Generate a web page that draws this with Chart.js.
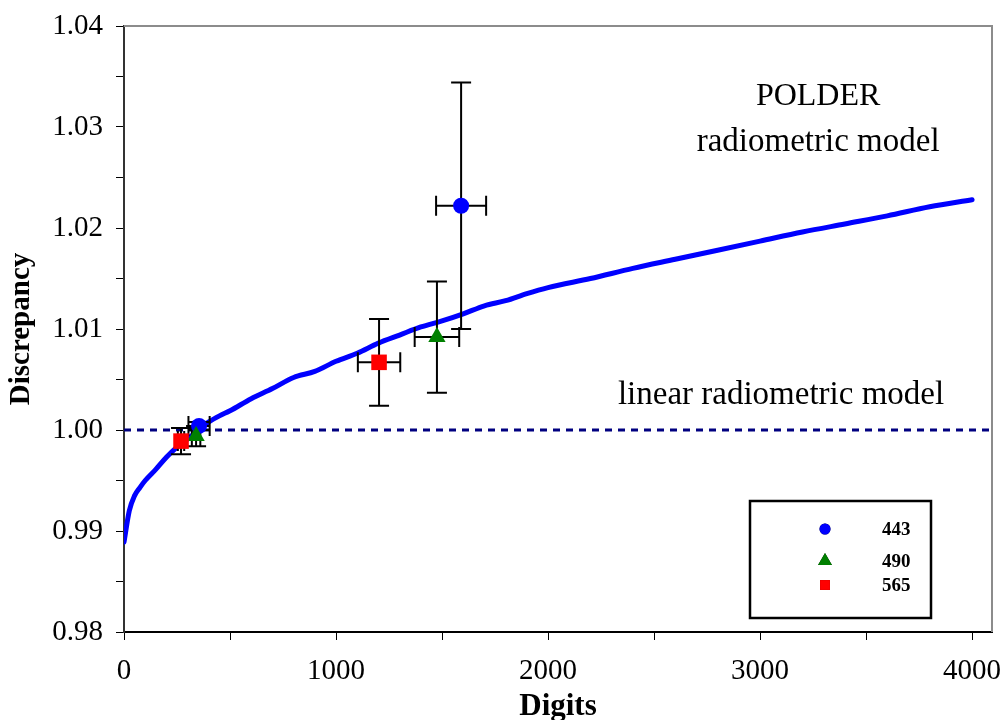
<!DOCTYPE html>
<html lang="en">
<head>
    <meta charset="UTF-8">
    <title>POLDER discrepancy</title>
    <script src="https://cdn.jsdelivr.net/npm/chart.js"></script>
    <style>
        body {
            margin: 0;
            background-color: #ffffff;
        }
        #wrap {
            width: 1004px;
            height: 720px;
        }
    </style>
</head>
<body>
    <div id="wrap"><canvas id="discChart" width="1004" height="720"></canvas></div>
    <script>
        // model curve (digits vs discrepancy)
        const curveX = [0, 25, 50, 75, 100, 150, 200, 250, 300, 350, 400, 450, 500, 600, 700, 800, 900,
            1000, 1100, 1200, 1300, 1400, 1500, 1600, 1700, 1800, 1900, 2000, 2200, 2400, 2600, 2800,
            3000, 3200, 3400, 3600, 3800, 4000];
        const curveY = [0.9889, 0.9920, 0.9935, 0.9943, 0.9950, 0.9961, 0.9973, 0.9983, 0.9991, 1.0000,
            1.0008, 1.0014, 1.0019, 1.0031, 1.0041, 1.0052, 1.0058, 1.0068, 1.0076, 1.0086, 1.0094,
            1.0102, 1.0108, 1.0115, 1.0123, 1.0128, 1.0135, 1.0141, 1.0150, 1.0160, 1.0169, 1.0178,
            1.0187, 1.0196, 1.0204, 1.0212, 1.0221, 1.0228];

        // measurements per band
        const x443 = [354, 1590];
        const y443 = [1.0004, 1.0222];
        const xErr443 = [50, 118];
        const yErr443 = [0.0004, 0.0122];

        const x490 = [340, 1476];
        const y490 = [0.9994, 1.0092];
        const xErr490 = [20, 105];
        const yErr490 = [0.0010, 0.0055];

        const x565 = [269, 1203];
        const y565 = [0.9989, 1.0067];
        const xErr565 = [15, 100];
        const yErr565 = [0.0013, 0.0043];

        const linearX = [0, 4094];
        const linearY = [1.0, 1.0];

        const xTickValues = [0, 500, 1000, 1500, 2000, 2500, 3000, 3500, 4000];
        const xTicksLabelled = [0, 1000, 2000, 3000, 4000];
        const yTicksLabelled = [0.98, 0.99, 1.00, 1.01, 1.02, 1.03, 1.04];

        const serif = '"Liberation Serif", "Times New Roman", serif';

        function pts(xs, ys) {
            return xs.map((x, i) => ({ x: x, y: ys[i] }));
        }

        const bands = [
            { label: '443', xs: x443, ys: y443, xe: xErr443, ye: yErr443, color: '#0000ff', style: 'circle', radius: 8, legendRadius: 5.5 },
            { label: '490', xs: x490, ys: y490, xe: xErr490, ye: yErr490, color: '#008000', style: 'triangle', radius: 10, legendRadius: 8 },
            { label: '565', xs: x565, ys: y565, xe: xErr565, ye: yErr565, color: '#ff0000', style: 'rect', radius: 11, legendRadius: 7 }
        ];

        // error bars go right after the curve, under the markers
        const errorBars = {
            id: 'errorBars',
            afterDatasetDraw(chart, args) {
                if (args.index !== 1) return;
                const ctx = chart.ctx;
                const xs = chart.scales.x, ys = chart.scales.y;
                const cap = 10;
                ctx.save();
                ctx.strokeStyle = '#000';
                ctx.lineWidth = 2;
                bands.forEach(b => {
                    b.xs.forEach((x, i) => {
                        const px = xs.getPixelForValue(x);
                        const py = ys.getPixelForValue(b.ys[i]);
                        const x0 = xs.getPixelForValue(x - b.xe[i]);
                        const x1 = xs.getPixelForValue(x + b.xe[i]);
                        const y0 = ys.getPixelForValue(b.ys[i] + b.ye[i]);
                        const y1 = ys.getPixelForValue(b.ys[i] - b.ye[i]);
                        ctx.beginPath();
                        ctx.moveTo(x0, py); ctx.lineTo(x1, py);
                        ctx.moveTo(x0, py - cap); ctx.lineTo(x0, py + cap);
                        ctx.moveTo(x1, py - cap); ctx.lineTo(x1, py + cap);
                        ctx.moveTo(px, y0); ctx.lineTo(px, y1);
                        ctx.moveTo(px - cap, y0); ctx.lineTo(px + cap, y0);
                        ctx.moveTo(px - cap, y1); ctx.lineTo(px + cap, y1);
                        ctx.stroke();
                    });
                });
                ctx.restore();
            }
        };

        // gray top/right frame, annotations and boxed legend
        const decorations = {
            id: 'decorations',
            beforeDatasetsDraw(chart) {
                const { ctx, chartArea } = chart;
                ctx.save();
                ctx.strokeStyle = '#8c8c8c';
                ctx.lineWidth = 2;
                ctx.beginPath();
                ctx.moveTo(chartArea.left, chartArea.top);
                ctx.lineTo(chartArea.right, chartArea.top);
                ctx.lineTo(chartArea.right, chartArea.bottom);
                ctx.stroke();
                ctx.restore();
            },
            afterDraw(chart) {
                const { ctx, chartArea } = chart;
                const xs = chart.scales.x, ys = chart.scales.y;
                ctx.save();
                ctx.fillStyle = '#000';
                ctx.textAlign = 'center';
                ctx.textBaseline = 'middle';
                ctx.font = '32px ' + serif;
                ctx.fillText('POLDER', xs.getPixelForValue(3274), ys.getPixelForValue(1.0330));
                ctx.font = '33px ' + serif;
                ctx.fillText('radiometric model', xs.getPixelForValue(3274), ys.getPixelForValue(1.0285));
                ctx.fillText('linear radiometric model', xs.getPixelForValue(3099), ys.getPixelForValue(1.0034));

                // legend box
                const bx = chartArea.left + 626, by = chartArea.top + 475, bw = 181, bh = 117;
                ctx.strokeStyle = '#000';
                ctx.lineWidth = 2.5;
                ctx.strokeRect(bx, by, bw, bh);
                const rowsY = [by + 28, by + 60, by + 84];
                ctx.font = 'bold 19px ' + serif;
                ctx.textAlign = 'left';
                bands.forEach((b, i) => {
                    Chart.helpers.drawPoint(ctx, {
                        pointStyle: b.style,
                        radius: b.legendRadius,
                        borderWidth: 0
                    }, bx + 75, rowsY[i]);
                    ctx.fillStyle = b.color;
                    ctx.fill();
                    ctx.fillStyle = '#000';
                    ctx.fillText(b.label, bx + 132, rowsY[i] + 1);
                });
                ctx.restore();
            }
        };

        const ctx = document.getElementById('discChart').getContext('2d');
        const discChart = new Chart(ctx, {
            type: 'scatter',
            data: {
                datasets: [
                    {
                        label: 'linear',
                        data: pts(linearX, linearY),
                        showLine: true,
                        borderColor: '#000080',
                        borderWidth: 3,
                        borderDash: [7, 6],
                        pointRadius: 0,
                        order: 4
                    },
                    {
                        label: 'model',
                        data: pts(curveX, curveY),
                        showLine: true,
                        borderColor: '#0000ff',
                        borderWidth: 5,
                        cubicInterpolationMode: 'monotone',
                        borderCapStyle: 'round',
                        pointRadius: 0,
                        order: 3
                    },
                    ...bands.map((b, i) => ({
                        label: b.label,
                        data: pts(b.xs, b.ys),
                        pointStyle: b.style,
                        pointRadius: b.radius,
                        pointBackgroundColor: b.color,
                        pointBorderColor: b.color,
                        pointBorderWidth: 0,
                        order: 2 - i
                    }))
                ]
            },
            options: {
                responsive: false,
                animation: false,
                devicePixelRatio: 1,
                layout: { padding: { top: 26, right: 12, left: 0, bottom: 0 } },
                plugins: {
                    legend: { display: false },
                    tooltip: { enabled: false }
                },
                scales: {
                    x: {
                        type: 'linear',
                        min: 0,
                        max: 4094,
                        afterBuildTicks: scale => {
                            scale.ticks = xTickValues.map(v => ({ value: v }));
                        },
                        afterFit: scale => {
                            scale.height = 88;
                            scale.paddingLeft = 0;
                            scale.paddingRight = 0;
                        },
                        ticks: {
                            maxRotation: 0,
                            autoSkip: false,
                            padding: 14,
                            color: '#000',
                            font: { size: 29, family: serif },
                            callback: v => xTicksLabelled.includes(v) ? String(v) : ''
                        },
                        grid: { drawOnChartArea: false, tickLength: 8, color: '#000', tickWidth: 1 },
                        border: { color: '#000', width: 2 },
                        title: {
                            display: true,
                            text: 'Digits',
                            color: '#000',
                            font: { size: 31, weight: 'bold', family: serif },
                            padding: { top: 0, bottom: -6 }
                        }
                    },
                    y: {
                        min: 0.98,
                        max: 1.04,
                        afterFit: scale => {
                            scale.width = 124;
                            scale.paddingTop = 0;
                            scale.paddingBottom = 0;
                        },
                        ticks: {
                            stepSize: 0.005,
                            autoSkip: false,
                            padding: 13,
                            color: '#000',
                            font: { size: 29, family: serif },
                            callback: v => yTicksLabelled.some(t => Math.abs(t - v) < 1e-6) ? v.toFixed(2) : ''
                        },
                        grid: { drawOnChartArea: false, tickLength: 8, color: '#000', tickWidth: 1 },
                        border: { color: '#333', width: 2 },
                        title: {
                            display: true,
                            text: 'Discrepancy',
                            color: '#000',
                            font: { size: 29, weight: 'bold', family: serif },
                            padding: { top: 4, bottom: 0 }
                        }
                    }
                }
            },
            plugins: [errorBars, decorations]
        });
    </script>
</body>
</html>
